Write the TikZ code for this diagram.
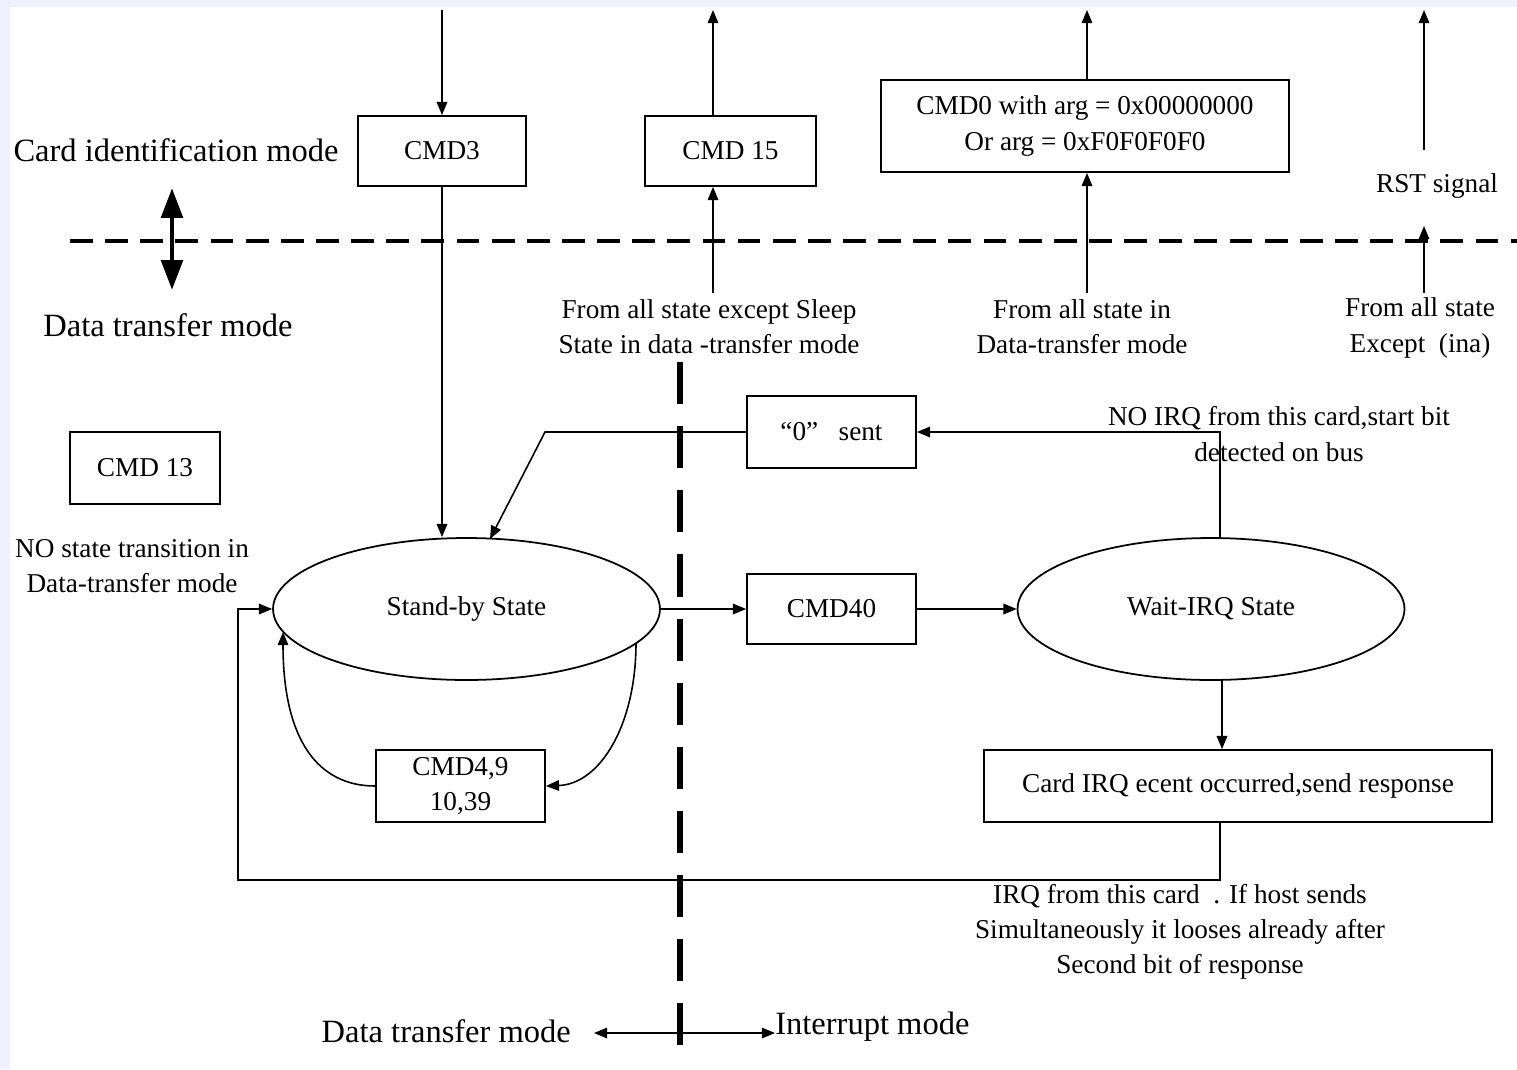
\documentclass[tikz,border=0pt]{standalone}
\usepackage{fontspec}
\setmainfont{Liberation Serif}
\usetikzlibrary{arrows.meta,shapes.geometric}
\begin{document}
\begin{tikzpicture}[x=0.02cm,y=-0.02cm,
  txt/.style={font=\fontsize{15.5}{20}\selectfont, align=center, inner sep=0},
  big/.style={font=\fontsize{18.5}{22}\selectfont, inner sep=0},
  box/.style={draw, line width=1pt, rectangle, inner sep=0, font=\fontsize{15.5}{20}\selectfont, align=center},
  state/.style={draw, line width=1pt, ellipse, inner sep=0, minimum width=7.74cm, minimum height=2.84cm, font=\fontsize{15.5}{20}\selectfont},
  arr/.style={line width=0.9pt, -{Triangle[length=7.5pt,width=6pt]}},
  hdash/.style={line width=2.8pt, dash pattern=on 13pt off 7pt},
  vdash/.style={line width=3.4pt, dash pattern=on 24pt off 12.5pt}]

% page and soft blue frame
\fill[blue!6] (0,0) rectangle (1517,1069);
\fill[white] (10,7) rectangle (1517,1069);
\useasboundingbox (0,0) rectangle (1517,1069);

% mode separators
\draw[hdash] (70,241) -- (1517,241);
\draw[vdash] (680,362) -- (680,1047);

% mode labels
\node[big] (cardid) at (176,150) {Card identification mode};
\node[big] (dtmleft) at (168,325) {Data transfer mode};
\coordinate (dup) at (172,188);
\coordinate (ddown) at (172,290);
\draw[line width=2.8pt, {Triangle[length=17pt,width=12pt]}-{Triangle[length=17pt,width=12pt]}] (dup) -- (ddown);

% command boxes
\node[box, minimum width=3.36cm, minimum height=1.4cm] (cmd3) at (442,151) {CMD3};
\node[box, minimum width=3.42cm, minimum height=1.4cm] (cmd15) at (730.5,151) {CMD 15};
\node[box, minimum width=8.16cm, minimum height=1.84cm] (cmd0) at (1085,126) {CMD0 with arg = 0x00000000\\Or arg = 0xF0F0F0F0};
\node[box, minimum width=3.0cm, minimum height=1.44cm] (cmd13) at (145,468) {CMD 13};
\node[box, minimum width=3.38cm, minimum height=1.44cm] (zero) at (831.5,432) {“0”\ \ \ sent};
\node[box, minimum width=3.38cm, minimum height=1.4cm] (cmd40) at (831.5,609) {CMD40};
\node[box, minimum width=3.38cm, minimum height=1.44cm] (cmd49) at (460.5,786) {CMD4,9\\10,39};
\node[box, minimum width=10.16cm, minimum height=1.44cm] (irqbox) at (1238,786) {Card IRQ ecent occurred,send response};

% states
\node[state] (standby) at (466.5,609) {Stand-by State};
\node[state] (waitirq) at (1211,609) {Wait-IRQ State};

% free texts
\node[txt] (rst) at (1437,186) {RST signal};
\node[txt] (from1) at (709,327) {From all state except Sleep\\State in data -transfer mode};
\node[txt] (from2) at (1082,327) {From all state in\\Data-transfer mode};
\node[txt] (from3) at (1420,328) {From all state\\Except\ \ (ina)};
\node[txt] (notrans) at (132,566) {NO state transition in\\Data-transfer mode};
\node[txt] (noirq) at (1279,434) {NO IRQ from this card,start bit\\detected on bus};
\node[txt] (irqtxt) at (1180,932) {IRQ from this card\ \ . If host sends\\Simultaneously it looses already after\\Second bit of response};
\node[big, anchor=east, inner xsep=13pt] (dtmb) at (594,1031) {Data transfer mode};
\node[big, anchor=west] (intm) at (775,1027) {Interrupt mode};

% identification-mode connectors
\coordinate (c3in) at (442,10);
\draw[arr] (c3in) -- (cmd3.north);
\draw[arr] (cmd3.south) -- (cmd3.south |- standby.north);

\coordinate (c15in) at (713,293);
\coordinate (c15out) at (713,10);
\draw[arr] (c15in) -- (c15in |- cmd15.south);
\draw[arr] (c15in |- cmd15.north) -- (c15out);

\coordinate (c0in) at (1087,293);
\coordinate (c0out) at (1087,10);
\draw[arr] (c0in) -- (c0in |- cmd0.south);
\draw[arr] (c0in |- cmd0.north) -- (c0out);

\coordinate (rstlow) at (1424,293);
\coordinate (rstmid) at (1424,226);
\coordinate (rsthigh) at (1424,150);
\coordinate (rstout) at (1424,10);
\draw[arr] (rstlow) -- (rstmid);
\draw[arr] (rsthigh) -- (rstout);

% data-transfer connectors
\coordinate (zbend) at (545,432);
\coordinate (sbtop) at (490,539);
\draw[arr] (zero.west) -- (zbend) -- (sbtop);

\draw[arr] (standby.east) -- (cmd40.west);
\draw[arr] (cmd40.east) -- (waitirq.west);

\coordinate (wtop) at (1220,538);
\draw[arr] (wtop) |- (zero.east);

\coordinate (wbot) at (1222,680);
\draw[arr] (wbot) -- (wbot |- irqbox.north);

\coordinate (ibot) at (1220,822);
\coordinate (back) at (238,880);
\draw[arr] (ibot) |- (back) |- (standby.west);

% self loop through CMD4,9,10,39
\coordinate (sbleft) at (283,632);
\coordinate (sbright) at (636,643);
\draw[arr] (cmd49.west) .. controls (318,786) and (283,740) .. (sbleft);
\draw[arr] (sbright) .. controls (636,725) and (600,784) .. (cmd49.east);

% mode arrows at the bottom
\coordinate (bc) at (680,1033);
\draw[arr] (bc) -- (bc -| dtmb.east);
\draw[arr] (bc) -- (bc -| intm.west);
\end{tikzpicture}
\end{document}
